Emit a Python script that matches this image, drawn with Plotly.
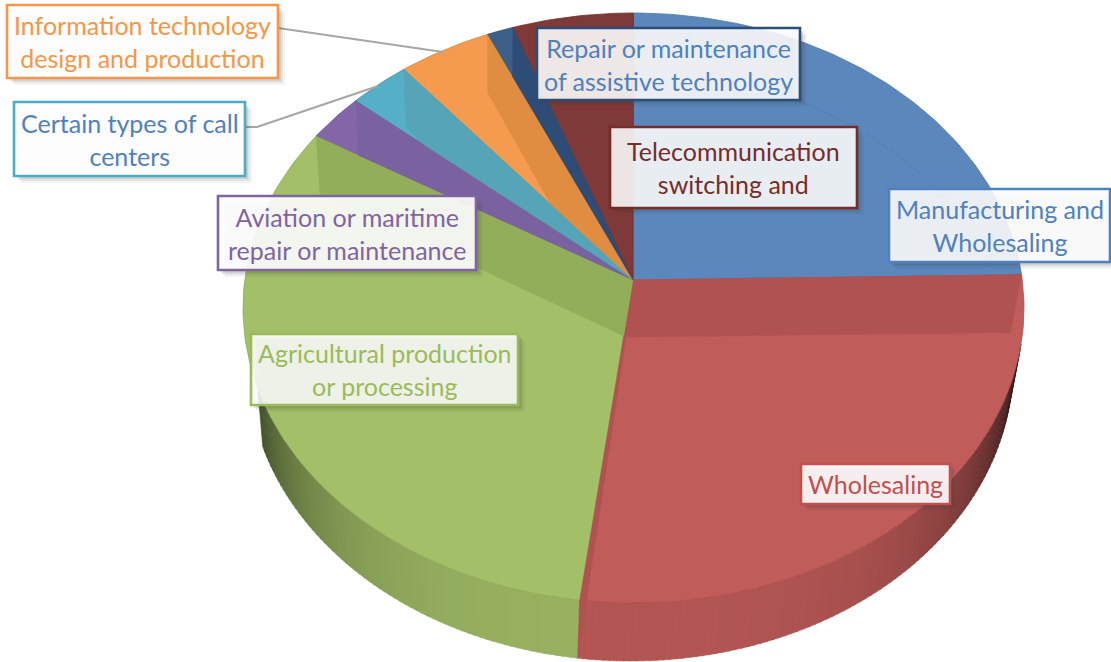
import math
import plotly.graph_objects as go

categories = ["Manufacturing and Wholesaling", "Wholesaling", "Agricultural production or processing",
              "Aviation or maritime repair or maintenance", "Certain types of call centers",
              "Information technology design and production", "Repair or maintenance of assistive technology",
              "Telecommunication switching and"]
values = [23.2, 29.0, 32.7, 2.5, 2.6, 3.9, 1.1, 5.0]
labels = ["Manufacturing and<br>Wholesaling", "Wholesaling", "Agricultural production<br>or processing",
          "Aviation or maritime<br>repair or maintenance", "Certain types of call<br>centers",
          "Information technology<br>design and production", "Repair or maintenance<br>of assistive technology",
          "Telecommunication<br>switching and"]

face = ["#5B87BD", "#C05C5A", "#A3BF68", "#8466A8", "#55AFC6", "#F59B50", "#3C5F87", "#7F3938"]
band = [None, "#B05252", "#93AE5A", "#7A62A0", "#56A4B8", "#E08D42", "#2E4C76", None]
edge = ["#4A76AC", "#AD4A48", "#8DA852", "#6C5290", "#46899E", "#D98433", "#2B4668", "#6E2F2E"]
text_col = ["#4F81BD", "#C0504D", "#9BBB59", "#8064A2", "#4F81BD", "#F79646", "#4F81BD", "#772C2A"]
border_col = ["#4F81BD", "#C0504D", "#9BBB59", "#8064A2", "#4BACC6", "#F79646", "#2C4D75", "#772C2A"]
boxes = [(889, 189, 1110, 262), (801, 464, 950, 504), (251, 334, 518, 405), (218, 196, 476, 270),
         (14, 102, 245, 176), (7, 5, 278, 78), (537, 28, 800, 100), (610, 127, 857, 208)]
box_alpha = [0.88, 0.9, 0.86, 0.9, 0.96, 0.95, 0.88, 0.87]

CX, CY, RX, RY = 633.5, 308.0, 390.5, 295.0
AX, AY = 633.0, 280.0
DX, DY, S = -3.0, 58.0, 0.979
AX2, AY2 = 626.0, 337.0


def rim(t):
    r = math.radians(t)
    return CX + RX * math.sin(r), CY - RY * math.cos(r)


def low(t):
    x, y = rim(t)
    return AX + S * (x - AX) + DX, y + DY


def arc(f, a, b, step=1.0):
    n = max(2, int(abs(b - a) / step) + 1)
    return [f(a + (b - a) * i / (n - 1)) for i in range(n)]


def clip(poly, p, q, sign):
    out = []
    side = lambda c: sign * ((q[0] - p[0]) * (c[1] - p[1]) - (q[1] - p[1]) * (c[0] - p[0])) >= -1e-6
    for i, c in enumerate(poly):
        d = poly[(i + 1) % len(poly)]
        if side(c):
            out.append(c)
        if side(c) != side(d):
            a = (q[0] - p[0]) * (c[1] - p[1]) - (q[1] - p[1]) * (c[0] - p[0])
            b = (q[0] - p[0]) * (d[1] - p[1]) - (q[1] - p[1]) * (d[0] - p[0])
            u = a / (a - b)
            out.append((c[0] + u * (d[0] - c[0]), c[1] + u * (d[1] - c[1])))
    return out


def mix(hexc, f):
    return "rgb(%d,%d,%d)" % tuple(int(int(hexc[i:i + 2], 16) * f) for i in (1, 3, 5))


def poly_trace(pts, fill, line=None, lw=0.8):
    xs = [p[0] for p in pts] + [pts[0][0]]
    ys = [p[1] for p in pts] + [pts[0][1]]
    return go.Scatter(x=xs, y=ys, mode="lines", fill="toself", fillcolor=fill,
                      line=dict(color=line or fill, width=lw), hoverinfo="skip", showlegend=False)


total = sum(values)
bounds = [0.0]
for v in values:
    bounds.append(bounds[-1] + 360.0 * v / total)

fig = go.Figure()

# side wall
t = 97.0
while t < 254.0:
    base = face[1] if t < bounds[2] else face[2]
    f = 0.93 - 0.65 * (abs(t - 180) / 80) ** 3
    pts = [rim(t), rim(t + 1.2), low(t + 1.2), low(t)]
    fig.add_trace(poly_trace(pts, mix(base, max(0.22, f)), lw=0.5))
    t += 1.0

# top faces
for i in range(len(values)):
    pts = [(AX, AY)] + arc(rim, bounds[i], bounds[i + 1])
    fig.add_trace(poly_trace(pts, face[i], edge[i]))

# inner wall bands, clipped to their slice
for i in range(len(values)):
    if band[i] is None:
        continue
    edges = [bounds[i + 1]]
    if i == 1:
        edges = [bounds[i], bounds[i + 1]]
    for e in edges:
        quad = [(AX, AY), rim(e), low(e), (AX2, AY2)]
        if i != 1:
            quad = clip(quad, (AX, AY), rim(bounds[i]), 1)
            quad = clip(quad, (AX, AY), rim(bounds[i + 1]), -1)
        if len(quad) >= 3:
            fig.add_trace(poly_trace(quad, band[i], lw=0.3))

# faint back rim seen through the blue slice
back = arc(low, 4, bounds[1] * 0.84)
fig.add_trace(go.Scatter(x=[p[0] for p in back], y=[p[1] for p in back], mode="lines",
                         line=dict(color="#5480B6", width=1), hoverinfo="skip", showlegend=False))

# leader lines
for lx, ly in [((278, 292, 443), (28, 30, 52)), ((245, 257, 378), (127, 127, 86))]:
    fig.add_trace(go.Scatter(x=list(lx), y=list(ly), mode="lines",
                             line=dict(color="#A6A6A6", width=2), hoverinfo="skip", showlegend=False))

shapes, anns = [], []
for i, (x0, y0, x1, y1) in enumerate(boxes):
    for off, alpha in ((7, 0.06), (5, 0.09), (3, 0.12)):
        shapes.append(dict(type="rect", x0=x0 + off, x1=x1 + off, y0=y0 + off, y1=y1 + off,
                           fillcolor="rgba(60,60,60,%g)" % alpha, line=dict(width=0), layer="above"))
    shapes.append(dict(type="rect", x0=x0, x1=x1, y0=y0, y1=y1,
                       fillcolor="rgba(255,255,255,%g)" % box_alpha[i],
                       line=dict(color=border_col[i], width=2.6), layer="above"))
    anns.append(dict(x=(x0 + x1) / 2, y=(y0 + y1) / 2, text=labels[i], showarrow=False,
                     xref="x", yref="y", align="center", xanchor="center", yanchor="middle",
                     font=dict(family="Lato", size=25, color=text_col[i])))

fig.update_layout(width=1111, height=662, margin=dict(l=0, r=0, t=0, b=0),
                  paper_bgcolor="white", plot_bgcolor="white", showlegend=False,
                  shapes=shapes, annotations=anns,
                  xaxis=dict(range=[0, 1111], visible=False, fixedrange=True),
                  yaxis=dict(range=[662, 0], visible=False, fixedrange=True))

fig.write_html("out.html", post_script="document.body.style.margin='0';document.body.style.overflow='hidden';",
               config=dict(displayModeBar=False))
